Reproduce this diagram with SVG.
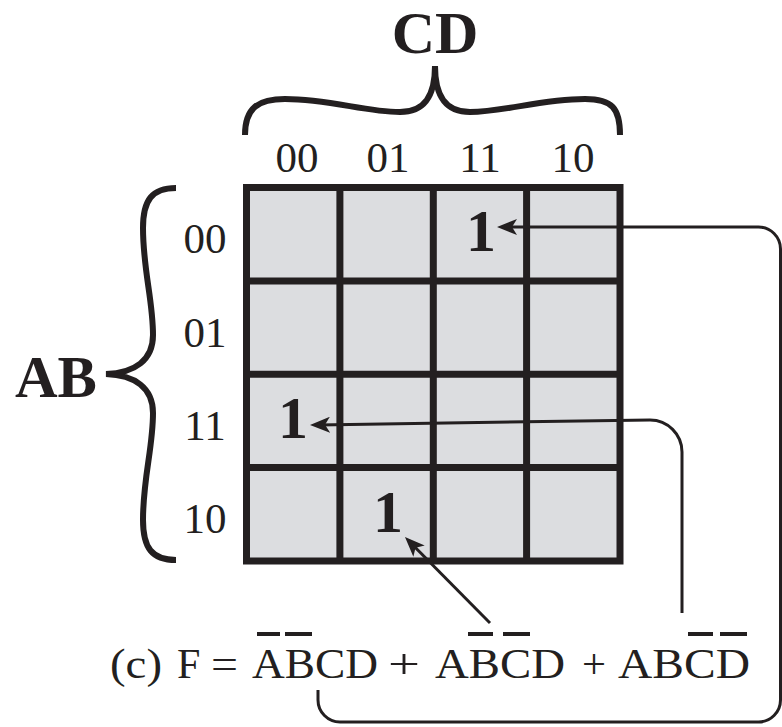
<svg xmlns="http://www.w3.org/2000/svg" width="782" height="727" viewBox="0 0 782 727">
  <style>
    .serif { font-family: "Liberation Serif", "Times New Roman", serif; fill: #231f20; }
    .bold { font-weight: bold; }
    .hdr { font-size: 43px; text-anchor: middle; }
    .one { font-size: 60px; font-weight: bold; text-anchor: middle; }
    .eq { font-size: 42px; }
    .brace { fill: none; stroke: #231f20; stroke-width: 6; stroke-linecap: butt; }
    .cell { fill: #dcdde0; }
    .grid { fill: none; stroke: #231f20; stroke-width: 7; }
    .wire { fill: none; stroke: #231f20; stroke-width: 3; }
    .bar { stroke: #231f20; stroke-width: 4; }
  </style>
  <defs>
    <marker id="head" markerUnits="userSpaceOnUse" viewBox="0 0 20 16" markerWidth="20" markerHeight="16" refX="12" refY="8" orient="auto">
      <path d="M20,8 L0,0 L5,8 L0,16 Z" fill="#231f20"/>
    </marker>
  </defs>

  <rect width="782" height="727" fill="#ffffff"/>

  <!-- Karnaugh map: 4x4 shaded cells -->
  <g id="kmap">
    <rect class="cell" x="246.5" y="187.5" width="373.5" height="373.5"/>
    <path class="grid" d="M246.5,187.5 H620 V561 H246.5 Z M339.9,187.5 V561 M433.3,187.5 V561 M526.6,187.5 V561 M246.5,280.9 H620 M246.5,374.3 H620 M246.5,467.6 H620"/>
  </g>

  <!-- CD header with brace -->
  <g id="cd-header">
    <text class="serif bold" x="435" y="53" font-size="60" text-anchor="middle">CD</text>
    <path class="brace" d="M245,135 C245,108 258,99 285,99 C330,99 365,112 400,112 C425,112 435,95 435,66 C435,95 445,112 470,112 C505,112 540,99 585,99 C612,99 620,108 620,135"/>
    <text class="serif hdr" x="297" y="172">00</text>
    <text class="serif hdr" x="388" y="172">01</text>
    <text class="serif hdr" x="480" y="172">11</text>
    <text class="serif hdr" x="573" y="172">10</text>
  </g>

  <!-- AB header with brace -->
  <g id="ab-header">
    <text class="serif bold" x="15" y="397" font-size="59">AB</text>
    <path class="brace" d="M176,188 C152,188 143,200 143,228 C143,270 153,300 153,335 C153,360 135,373 106,374 C135,375 153,388 153,413 C153,448 143,478 143,520 C143,548 152,560 176,560"/>
    <text class="serif hdr" x="205" y="253">00</text>
    <text class="serif hdr" x="205" y="347">01</text>
    <text class="serif hdr" x="205" y="440">11</text>
    <text class="serif hdr" x="205" y="533">10</text>
  </g>

  <!-- minterms set to 1 -->
  <g id="m3"><text class="serif one" x="481" y="251">1</text></g>
  <g id="m12"><text class="serif one" x="293" y="438">1</text></g>
  <g id="m9"><text class="serif one" x="388" y="532">1</text></g>

  <!-- expression -->
  <g id="expression" class="serif eq">
    <text x="110" y="678" textLength="52" lengthAdjust="spacingAndGlyphs">(c)</text>
    <text x="177" y="678">F</text>
    <text x="211" y="678" textLength="27" lengthAdjust="spacingAndGlyphs">=</text>
    <text x="252" y="678" textLength="126" lengthAdjust="spacingAndGlyphs">ABCD</text>
    <text x="388" y="678" textLength="32" lengthAdjust="spacingAndGlyphs">+</text>
    <text x="435" y="678" textLength="130" lengthAdjust="spacingAndGlyphs">ABCD</text>
    <text x="582" y="678" textLength="24" lengthAdjust="spacingAndGlyphs">+</text>
    <text x="618" y="678" textLength="132" lengthAdjust="spacingAndGlyphs">ABCD</text>
    <path class="bar" d="M257,634 H280 M285,634 H312 M468,634 H493 M503,634 H530 M688,634 H713 M720,634 H747"/>
  </g>

  <!-- connectors from terms to cells -->
  <g id="connectors">
    <path class="wire" marker-end="url(#head)" d="M318,690 V700 A22,22 0 0 0 340,722 H758.5 A22,22 0 0 0 780.5,700 V249 A22,22 0 0 0 758.5,227 H505"/>
    <path class="wire" marker-end="url(#head)" d="M682,613 V452 A32,32 0 0 0 650,420 L318,424.9"/>
    <path class="wire" marker-end="url(#head)" d="M490,623 L410.6,542.7"/>
  </g>
</svg>
